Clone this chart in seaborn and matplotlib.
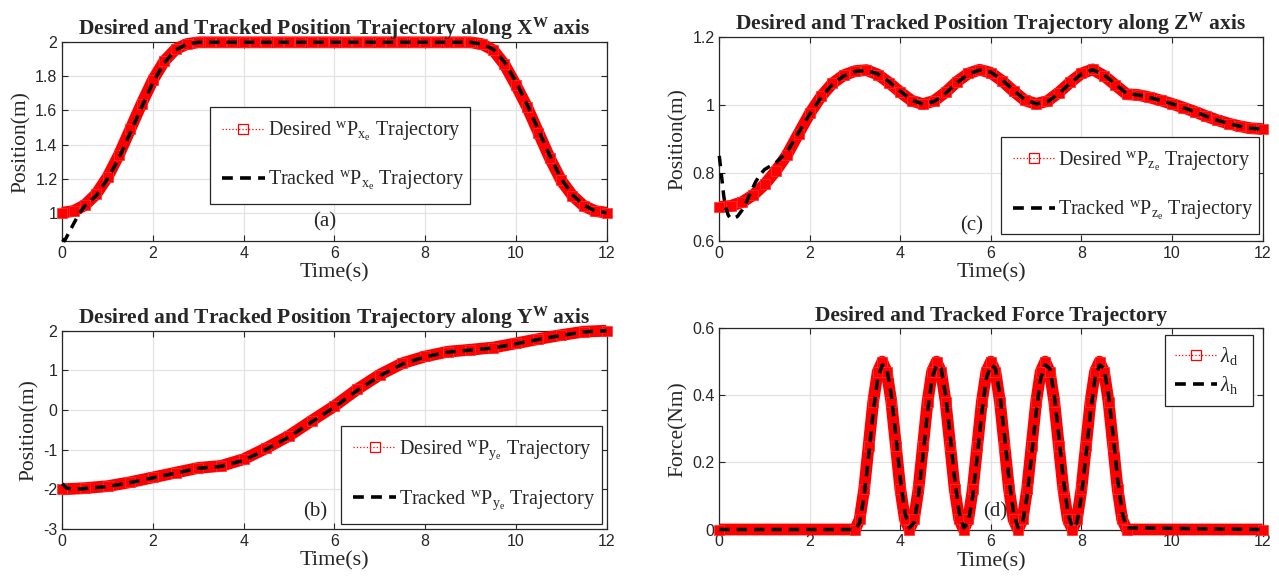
import numpy as np
import pandas as pd
import matplotlib
matplotlib.use("Agg")
import matplotlib.pyplot as plt
from matplotlib.lines import Line2D
from matplotlib.ticker import FuncFormatter
import seaborn as sns

# ---------------- data ----------------
# (a) X axis, desired, every 0.25 s
t_x_des = np.arange(0, 12.001, 0.25)
x_des = [1.00, 1.01, 1.045, 1.11, 1.21, 1.34, 1.49, 1.64, 1.78, 1.89, 1.96, 1.99, 2.00,
         2.00, 2.00, 2.00, 2.00, 2.00, 2.00, 2.00, 2.00, 2.00, 2.00, 2.00, 2.00,
         2.00, 2.00, 2.00, 2.00, 2.00, 2.00, 2.00, 2.00, 2.00, 2.00, 2.00, 2.00,
         1.99, 1.955, 1.87, 1.75, 1.62, 1.47, 1.32, 1.19, 1.10, 1.04, 1.01, 1.00]
t_x_trk = np.concatenate([[0.0, 0.05, 0.1, 0.2, 0.3, 0.4], np.arange(0.5, 12.001, 0.25)])
x_trk = [0.845, 0.835, 0.86, 0.91, 0.96, 1.005,
         1.04, 1.10, 1.20, 1.32, 1.47, 1.62, 1.765, 1.88, 1.955, 1.99, 2.00,
         2.00, 2.00, 2.00, 2.00, 2.00, 2.00, 2.00, 2.00, 2.00, 2.00, 2.00, 2.00,
         2.00, 2.00, 2.00, 2.00, 2.00, 2.00, 2.00, 2.00, 2.00, 2.00, 2.00, 2.00,
         1.99, 1.96, 1.885, 1.77, 1.635, 1.485, 1.335, 1.20, 1.105, 1.045, 1.01, 1.00]

# (b) Y axis, desired every 0.5 s
t_y_des = np.arange(0, 12.001, 0.5)
y_des = [-2.00, -1.97, -1.92, -1.82, -1.70, -1.58, -1.46, -1.41, -1.24, -0.96, -0.65, -0.27,
         0.10, 0.52, 0.89, 1.18, 1.35, 1.47, 1.52, 1.575, 1.68, 1.79, 1.89, 1.975, 2.00]
t_y_trk = np.concatenate([[0.0, 0.1, 0.25], np.arange(0.5, 12.001, 0.5)])
y_trk = [-1.86, -1.97, -2.00,
         -1.98, -1.93, -1.83, -1.71, -1.59, -1.47, -1.42, -1.27, -0.99, -0.68, -0.30, 0.07,
         0.49, 0.86, 1.16, 1.34, 1.46, 1.51, 1.565, 1.67, 1.78, 1.88, 1.97, 2.00]

# (c) Z axis, desired every 0.25 s
t_z_des = np.arange(0, 12.001, 0.25)
z_des = [0.700, 0.703, 0.714, 0.735, 0.766, 0.806, 0.854, 0.915, 0.975, 1.025, 1.063, 1.087, 1.099,
         1.102, 1.089, 1.065, 1.037, 1.012, 1.002, 1.012, 1.037, 1.068, 1.092, 1.103, 1.094,
         1.070, 1.040, 1.013, 1.003, 1.011, 1.036, 1.066, 1.092, 1.104, 1.085, 1.058, 1.031,
         1.029, 1.022, 1.013, 1.003, 0.992, 0.980, 0.967, 0.955, 0.945, 0.937, 0.931, 0.929]
t_z_trk = np.concatenate([[0.0, 0.05, 0.1, 0.15, 0.2, 0.25, 0.3, 0.4, 0.5, 0.6, 0.7, 0.8, 0.9, 1.0],
                          np.arange(1.25, 12.001, 0.25)])
z_trk = [0.85, 0.79, 0.73, 0.695, 0.675, 0.667, 0.666, 0.672, 0.69, 0.715, 0.745, 0.773, 0.795, 0.81,
         0.83, 0.862, 0.918, 0.973, 1.022, 1.06, 1.085, 1.098, 1.101, 1.091, 1.068, 1.040,
         1.014, 1.002, 1.010, 1.034, 1.065, 1.090, 1.102, 1.096, 1.073, 1.043, 1.015, 1.003,
         1.009, 1.033, 1.063, 1.090, 1.103, 1.088, 1.061, 1.033, 1.029, 1.022, 1.013, 1.003,
         0.992, 0.980, 0.967, 0.955, 0.945, 0.937, 0.931, 0.929]

# (d) Force, 0 s, 3.0..9.0 s every 0.1 s, 12 s
t_f = np.concatenate([[0.0], np.arange(3.0, 9.0001, 0.1), [12.0]])
f_des = [0.0,
         0.00, 0.03, 0.12, 0.25, 0.38, 0.47, 0.50, 0.47, 0.38, 0.25, 0.12, 0.03,
         0.00, 0.03, 0.12, 0.25, 0.38, 0.47, 0.50, 0.47, 0.38, 0.25, 0.12, 0.03,
         0.00, 0.03, 0.12, 0.25, 0.38, 0.47, 0.50, 0.47, 0.38, 0.25, 0.12, 0.03,
         0.00, 0.03, 0.12, 0.25, 0.38, 0.47, 0.50, 0.47, 0.38, 0.25, 0.12, 0.03,
         0.00, 0.03, 0.12, 0.25, 0.38, 0.47, 0.50, 0.47, 0.38, 0.25, 0.12, 0.03,
         0.00, 0.0]
f_trk = [0.0,
         0.00, 0.02, 0.10, 0.22, 0.35, 0.45, 0.49, 0.48, 0.40, 0.28, 0.15, 0.05,
         0.005, 0.02, 0.10, 0.22, 0.35, 0.45, 0.49, 0.48, 0.40, 0.28, 0.15, 0.05,
         0.005, 0.02, 0.10, 0.22, 0.35, 0.45, 0.49, 0.48, 0.40, 0.28, 0.15, 0.05,
         0.005, 0.02, 0.10, 0.22, 0.35, 0.45, 0.49, 0.48, 0.40, 0.28, 0.15, 0.05,
         0.005, 0.02, 0.10, 0.22, 0.35, 0.45, 0.49, 0.48, 0.40, 0.28, 0.15, 0.05,
         0.005, 0.0]

titles = [r"Desired and Tracked Position Trajectory along X$^{\mathbf{W}}$ axis",
          r"Desired and Tracked Position Trajectory along Y$^{\mathbf{W}}$ axis",
          r"Desired and Tracked Position Trajectory along Z$^{\mathbf{W}}$ axis",
          "Desired and Tracked Force Trajectory"]
ylabels = ["Position(m)", "Position(m)", "Position(m)", "Force(Nm)"]
panel_tags = ["(a)", "(b)", "(c)", "(d)"]
leg_des = [r"Desired ${}^{\mathrm{w}}\mathrm{P}_{\mathrm{x}_{\mathrm{e}}}$ Trajectory",
           r"Desired ${}^{\mathrm{w}}\mathrm{P}_{\mathrm{y}_{\mathrm{e}}}$ Trajectory",
           r"Desired ${}^{\mathrm{w}}\mathrm{P}_{\mathrm{z}_{\mathrm{e}}}$ Trajectory",
           r"$\lambda_{\mathrm{d}}$"]
leg_trk = [r"Tracked ${}^{\mathrm{w}}\mathrm{P}_{\mathrm{x}_{\mathrm{e}}}$ Trajectory",
           r"Tracked ${}^{\mathrm{w}}\mathrm{P}_{\mathrm{y}_{\mathrm{e}}}$ Trajectory",
           r"Tracked ${}^{\mathrm{w}}\mathrm{P}_{\mathrm{z}_{\mathrm{e}}}$ Trajectory",
           r"$\lambda_{\mathrm{h}}$"]

# ---------------- style ----------------
sns.set_theme(style="ticks")
plt.rcParams.update({
    "font.family": ["Liberation Sans", "DejaVu Sans"],
    "mathtext.fontset": "custom",
    "mathtext.rm": "Liberation Serif",
    "mathtext.it": "Liberation Serif:italic",
    "mathtext.bf": "Liberation Serif:bold",
    "axes.unicode_minus": False,
    "axes.edgecolor": "#262626",
    "axes.linewidth": 0.9,
    "xtick.direction": "in", "ytick.direction": "in",
    "xtick.top": True, "ytick.right": True,
    "xtick.color": "#262626", "ytick.color": "#262626",
    "xtick.labelcolor": "#262626", "ytick.labelcolor": "#262626",
    "xtick.major.size": 4, "ytick.major.size": 4,
    "xtick.major.width": 0.8, "ytick.major.width": 0.8,
    "xtick.labelsize": 11.5, "ytick.labelsize": 11.5,
})
SERIF = "Liberation Serif"

fig = plt.figure(figsize=(12.79, 5.82), dpi=100)
positions = [
    [0.0487, 0.5859, 0.4255, 0.3414],   # (a)
    [0.0487, 0.0911, 0.4255, 0.3407],   # (b)
    [0.5624, 0.5859, 0.4247, 0.3510],   # (c)
    [0.5624, 0.0902, 0.4247, 0.3462],   # (d)
]
series = [
    (t_x_des, x_des, t_x_trk, x_trk),
    (t_y_des, y_des, t_y_trk, y_trk),
    (t_z_des, z_des, t_z_trk, z_trk),
    (t_f, f_des, t_f, f_trk),
]
ylims = [(0.834, 2.0), (-3, 2), (0.6, 1.2), (0, 0.6)]
yticks = [np.arange(1.0, 2.01, 0.2), np.arange(-3, 2.01, 1), np.arange(0.6, 1.21, 0.2),
          np.arange(0, 0.61, 0.2)]
# legend boxes (x0, y_bottom, width, height) in axes fractions
legend_box = [(0.271, 0.171, 0.478, 0.503), (0.512, 0.015, 0.480, 0.504),
              (0.518, 0.015, 0.476, 0.494), (0.82, 0.618, 0.163, 0.347)]
legend_spacing = [1.3, 1.3, 1.3, 0.35]
legend_pad = [0.62, 0.62, 0.62, 0.5]
tag_pos = [(0.483, 0.096), (0.464, 0.086), (0.465, 0.075), (0.508, 0.087)]

fmt = FuncFormatter(lambda v, p: f"{round(v, 6):g}")

for i, pos in enumerate(positions):
    ax = fig.add_axes(pos)
    td, vd, tt, vt = series[i]
    dfd = pd.DataFrame({"t": td, "v": vd})
    dft = pd.DataFrame({"t": tt, "v": vt})
    sns.lineplot(data=dfd, x="t", y="v", ax=ax, color="red", lw=8.5, marker="s", ms=7,
                 mfc="red", mec="#ff3030", mew=0.5, sort=False, estimator=None,
                 legend=False, clip_on=False, zorder=3, solid_joinstyle="round",
                 solid_capstyle="butt")
    sns.lineplot(data=dft, x="t", y="v", ax=ax, color="black", lw=2.5,
                 linestyle=(0, (3, 2)), sort=False, estimator=None,
                 legend=False, clip_on=False, zorder=4)
    ax.set_xlim(0, 12)
    ax.set_ylim(*ylims[i])
    ax.set_xticks(np.arange(0, 12.01, 2))
    ax.set_yticks(yticks[i])
    ax.xaxis.set_major_formatter(fmt)
    ax.yaxis.set_major_formatter(fmt)
    ax.grid(True, color="#e3e3e3", lw=0.9)
    ax.set_axisbelow(True)
    for s in ax.spines.values():
        s.set_zorder(2.5)
    ax.set_title(titles[i], family=SERIF, fontweight="bold", fontsize=15.5, pad=5)
    ax.set_xlabel("Time(s)", family=SERIF, fontsize=16, labelpad=2)
    ax.set_ylabel(ylabels[i], family=SERIF, fontsize=15.5, labelpad=3)
    ax.text(*tag_pos[i], panel_tags[i], transform=ax.transAxes, ha="center", va="center",
            family=SERIF, fontsize=15, zorder=6)
    h_des = Line2D([], [], color="red", ls=":", lw=0.9, marker="s", ms=6.5,
                   mfc="none", mec="red", mew=0.9)
    h_trk = Line2D([], [], color="black", lw=2.6, linestyle=(0, (3, 2)))
    leg = ax.legend([h_des, h_trk], [leg_des[i], leg_trk[i]], loc="upper left",
                    bbox_to_anchor=legend_box[i], mode="expand",
                    borderaxespad=0, frameon=True, fancybox=False, framealpha=1,
                    edgecolor="#262626", prop={"family": SERIF, "size": 14.5},
                    handlelength=2.1, handletextpad=0.15,
                    labelspacing=legend_spacing[i], borderpad=legend_pad[i])
    leg.get_frame().set_linewidth(0.9)
    leg.set_zorder(5)

fig.savefig("out.png", dpi=100)
